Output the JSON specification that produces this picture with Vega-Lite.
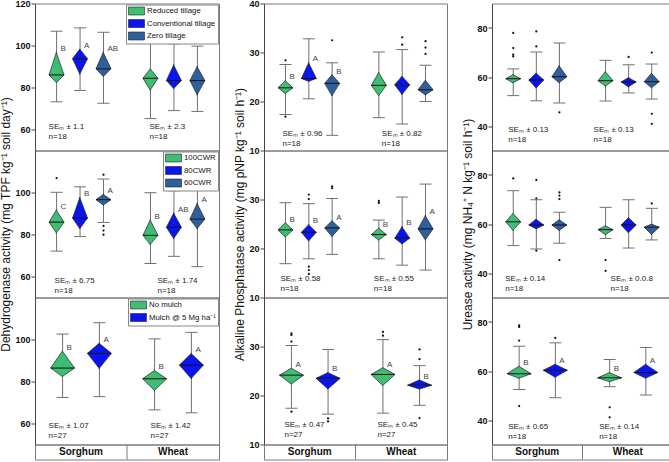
{
"$schema":"https://vega.github.io/schema/vega-lite/v6.json",
"padding":{"left":-2,"top":-1.5,"right":0,"bottom":0},
"background":"white",
"config":{
 "font":"Liberation Sans",
 "view":{"stroke":"#7a7a7a","strokeWidth":1},
 "axis":{"grid":false,"domainColor":"#444","tickColor":"#444","tickSize":4,"labelFontSize":9,"labelFontWeight":"bold","labelColor":"#111","labelPadding":1,"labelOverlap":false,"titleFontSize":12,"titleFontWeight":"normal","titleColor":"#111","titlePadding":2.5},
 "legend":{"orient":"top-right","offset":1,"padding":2,"strokeColor":"#888","fillColor":"white","labelFontSize":7.8,"labelColor":"#111","labelOffset":10,"rowPadding":1.5,"symbolOpacity":1}
},
"datasets":{
 "boxes":[
  {"e":"DHA","f":"T","trt":"Reduced tillage","grp":"S-RT","min":73.2,"q1":82.2,"med":86.0,"q3":97.0,"max":106.8,"letter":"B"},
  {"e":"DHA","f":"T","trt":"Conventional tillage","grp":"S-CT","min":78.6,"q1":86.2,"med":93.7,"q3":98.4,"max":108.4,"letter":"A"},
  {"e":"DHA","f":"T","trt":"Zero tillage","grp":"S-ZT","min":72.5,"q1":85.1,"med":88.9,"q3":97.0,"max":106.3,"letter":"AB"},
  {"e":"DHA","f":"T","trt":"Reduced tillage","grp":"W-RT","min":65.2,"q1":78.6,"med":84.4,"q3":89.0,"max":104.0,"letter":""},
  {"e":"DHA","f":"T","trt":"Conventional tillage","grp":"W-CT","min":69.0,"q1":79.4,"med":83.3,"q3":91.0,"max":100.8,"letter":""},
  {"e":"DHA","f":"T","trt":"Zero tillage","grp":"W-ZT","min":68.6,"q1":76.3,"med":83.3,"q3":90.1,"max":99.7,"letter":""},
  {"e":"DHA","f":"W","trt":"100CWR","grp":"S-100","min":72.1,"q1":80.6,"med":85.9,"q3":91.8,"max":100.1,"letter":"C"},
  {"e":"DHA","f":"W","trt":"80CWR","grp":"S-80","min":79.0,"q1":82.6,"med":87.8,"q3":97.8,"max":102.7,"letter":"B"},
  {"e":"DHA","f":"W","trt":"60CWR","grp":"S-60","min":85.7,"q1":93.9,"med":96.6,"q3":99.2,"max":106.4,"letter":"A"},
  {"e":"DHA","f":"W","trt":"100CWR","grp":"W-100","min":66.2,"q1":75.1,"med":79.6,"q3":87.1,"max":99.9,"letter":"B"},
  {"e":"DHA","f":"W","trt":"80CWR","grp":"W-80","min":69.6,"q1":77.9,"med":83.4,"q3":90.4,"max":100.8,"letter":"AB"},
  {"e":"DHA","f":"W","trt":"60CWR","grp":"W-60","min":64.7,"q1":82.7,"med":87.3,"q3":95.0,"max":104.1,"letter":"A"},
  {"e":"DHA","f":"M","trt":"No mulch","grp":"S-NM","min":72.4,"q1":82.3,"med":86.4,"q3":94.6,"max":102.6,"letter":"B"},
  {"e":"DHA","f":"M","trt":"Mulch @ 5 Mg ha⁻¹","grp":"S-M","min":72.8,"q1":86.1,"med":93.4,"q3":98.3,"max":108.0,"letter":"A"},
  {"e":"DHA","f":"M","trt":"No mulch","grp":"W-NM","min":66.5,"q1":75.6,"med":81.3,"q3":85.3,"max":100.3,"letter":"B"},
  {"e":"DHA","f":"M","trt":"Mulch @ 5 Mg ha⁻¹","grp":"W-M","min":65.1,"q1":81.3,"med":87.8,"q3":93.4,"max":103.4,"letter":"A"},
  {"e":"ALP","f":"T","trt":"Reduced tillage","grp":"S-RT","min":17.35,"q1":21.6,"med":22.8,"q3":24.3,"max":27.55,"letter":"B"},
  {"e":"ALP","f":"T","trt":"Conventional tillage","grp":"S-CT","min":20.55,"q1":24.1,"med":24.7,"q3":28.0,"max":32.8,"letter":"A"},
  {"e":"ALP","f":"T","trt":"Zero tillage","grp":"S-ZT","min":13.1,"q1":21.1,"med":23.7,"q3":25.5,"max":27.9,"letter":"B"},
  {"e":"ALP","f":"T","trt":"Reduced tillage","grp":"W-RT","min":16.7,"q1":21.1,"med":23.3,"q3":26.0,"max":30.1,"letter":""},
  {"e":"ALP","f":"T","trt":"Conventional tillage","grp":"W-CT","min":15.4,"q1":21.4,"med":23.4,"q3":25.2,"max":30.6,"letter":""},
  {"e":"ALP","f":"T","trt":"Zero tillage","grp":"W-ZT","min":20.0,"q1":21.3,"med":22.4,"q3":24.4,"max":27.4,"letter":""},
  {"e":"ALP","f":"W","trt":"100CWR","grp":"S-100","min":16.9,"q1":22.3,"med":23.8,"q3":25.3,"max":29.35,"letter":"B"},
  {"e":"ALP","f":"W","trt":"80CWR","grp":"S-80","min":17.9,"q1":21.5,"med":23.3,"q3":24.9,"max":29.15,"letter":"B"},
  {"e":"ALP","f":"W","trt":"60CWR","grp":"S-60","min":18.8,"q1":22.4,"med":24.2,"q3":25.7,"max":30.2,"letter":"A"},
  {"e":"ALP","f":"W","trt":"100CWR","grp":"W-100","min":17.9,"q1":21.7,"med":22.85,"q3":24.2,"max":25.8,"letter":"B"},
  {"e":"ALP","f":"W","trt":"80CWR","grp":"W-80","min":16.6,"q1":20.9,"med":22.1,"q3":24.5,"max":30.5,"letter":"B"},
  {"e":"ALP","f":"W","trt":"60CWR","grp":"W-60","min":15.6,"q1":21.7,"med":24.0,"q3":26.8,"max":33.15,"letter":"A"},
  {"e":"ALP","f":"M","trt":"No mulch","grp":"S-NM","min":17.4,"q1":22.3,"med":24.15,"q3":25.6,"max":30.2,"letter":"A"},
  {"e":"ALP","f":"M","trt":"Mulch @ 5 Mg ha⁻¹","grp":"S-M","min":16.2,"q1":21.3,"med":23.5,"q3":24.7,"max":29.4,"letter":"B"},
  {"e":"ALP","f":"M","trt":"No mulch","grp":"W-NM","min":16.4,"q1":22.0,"med":24.3,"q3":25.7,"max":31.4,"letter":"A"},
  {"e":"ALP","f":"M","trt":"Mulch @ 5 Mg ha⁻¹","grp":"W-M","min":18.0,"q1":21.3,"med":22.1,"q3":23.2,"max":26.1,"letter":"B"},
  {"e":"URE","f":"T","trt":"Reduced tillage","grp":"S-RT","min":52.4,"q1":57.6,"med":59.3,"q3":61.0,"max":63.3,"letter":""},
  {"e":"URE","f":"T","trt":"Conventional tillage","grp":"S-CT","min":50.3,"q1":55.4,"med":58.8,"q3":61.6,"max":70.2,"letter":""},
  {"e":"URE","f":"T","trt":"Zero tillage","grp":"S-ZT","min":49.4,"q1":57.6,"med":60.1,"q3":64.7,"max":73.9,"letter":""},
  {"e":"URE","f":"T","trt":"Reduced tillage","grp":"W-RT","min":50.2,"q1":56.2,"med":58.5,"q3":62.3,"max":66.8,"letter":""},
  {"e":"URE","f":"T","trt":"Conventional tillage","grp":"W-CT","min":53.5,"q1":55.9,"med":58.0,"q3":59.8,"max":65.0,"letter":""},
  {"e":"URE","f":"T","trt":"Zero tillage","grp":"W-ZT","min":51.0,"q1":55.5,"med":58.1,"q3":61.6,"max":65.3,"letter":""},
  {"e":"URE","f":"W","trt":"100CWR","grp":"S-100","min":51.2,"q1":57.3,"med":60.9,"q3":64.4,"max":73.6,"letter":""},
  {"e":"URE","f":"W","trt":"80CWR","grp":"S-80","min":49.8,"q1":58.0,"med":59.6,"q3":62.0,"max":69.9,"letter":""},
  {"e":"URE","f":"W","trt":"60CWR","grp":"S-60","min":52.1,"q1":57.3,"med":59.6,"q3":61.8,"max":64.8,"letter":""},
  {"e":"URE","f":"W","trt":"100CWR","grp":"W-100","min":54.1,"q1":55.6,"med":57.7,"q3":59.3,"max":66.8,"letter":""},
  {"e":"URE","f":"W","trt":"80CWR","grp":"W-80","min":50.2,"q1":56.3,"med":59.6,"q3":62.7,"max":69.9,"letter":""},
  {"e":"URE","f":"W","trt":"60CWR","grp":"W-60","min":53.5,"q1":55.6,"med":58.7,"q3":60.0,"max":66.4,"letter":""},
  {"e":"URE","f":"M","trt":"No mulch","grp":"S-NM","min":52.4,"q1":57.0,"med":58.9,"q3":62.0,"max":70.1,"letter":"B"},
  {"e":"URE","f":"M","trt":"Mulch @ 5 Mg ha⁻¹","grp":"S-M","min":49.1,"q1":57.4,"med":60.3,"q3":62.8,"max":71.5,"letter":"A"},
  {"e":"URE","f":"M","trt":"No mulch","grp":"W-NM","min":53.6,"q1":55.6,"med":57.2,"q3":59.4,"max":64.7,"letter":"B"},
  {"e":"URE","f":"M","trt":"Mulch @ 5 Mg ha⁻¹","grp":"W-M","min":50.2,"q1":57.0,"med":59.4,"q3":62.8,"max":69.6,"letter":"A"}
 ],
 "outliers":[
  {"e":"DHA","f":"W","grp":"S-100","v":106.9},
  {"e":"DHA","f":"W","grp":"S-60","v":108.5},{"e":"DHA","f":"W","grp":"S-60","v":84.1},{"e":"DHA","f":"W","grp":"S-60","v":81.9},{"e":"DHA","f":"W","grp":"S-60","v":79.9},
  {"e":"ALP","f":"T","grp":"S-RT","v":28.4},{"e":"ALP","f":"T","grp":"S-RT","v":16.9},
  {"e":"ALP","f":"T","grp":"S-ZT","v":32.5},
  {"e":"ALP","f":"T","grp":"W-CT","v":33.1},{"e":"ALP","f":"T","grp":"W-CT","v":31.6},
  {"e":"ALP","f":"T","grp":"W-ZT","v":32.3},{"e":"ALP","f":"T","grp":"W-ZT","v":31.0},{"e":"ALP","f":"T","grp":"W-ZT","v":29.7},
  {"e":"ALP","f":"W","grp":"S-80","v":31.0},{"e":"ALP","f":"W","grp":"S-80","v":30.1},{"e":"ALP","f":"W","grp":"S-80","v":16.3},{"e":"ALP","f":"W","grp":"S-80","v":15.6},{"e":"ALP","f":"W","grp":"S-80","v":14.8},
  {"e":"ALP","f":"W","grp":"S-60","v":32.7},{"e":"ALP","f":"W","grp":"S-60","v":32.3},
  {"e":"ALP","f":"W","grp":"W-100","v":29.7},{"e":"ALP","f":"W","grp":"W-100","v":29.3},
  {"e":"ALP","f":"M","grp":"S-NM","v":32.7},{"e":"ALP","f":"M","grp":"S-NM","v":32.35},{"e":"ALP","f":"M","grp":"S-NM","v":31.0},{"e":"ALP","f":"M","grp":"S-NM","v":16.7},
  {"e":"ALP","f":"M","grp":"S-M","v":15.35},{"e":"ALP","f":"M","grp":"S-M","v":14.7},
  {"e":"ALP","f":"M","grp":"W-NM","v":33.0},{"e":"ALP","f":"M","grp":"W-NM","v":32.2},
  {"e":"ALP","f":"M","grp":"W-M","v":29.4},{"e":"ALP","f":"M","grp":"W-M","v":27.4},{"e":"ALP","f":"M","grp":"W-M","v":15.4},
  {"e":"URE","f":"T","grp":"S-RT","v":78.0},{"e":"URE","f":"T","grp":"S-RT","v":71.8},{"e":"URE","f":"T","grp":"S-RT","v":69.1},{"e":"URE","f":"T","grp":"S-RT","v":68.4},
  {"e":"URE","f":"T","grp":"S-CT","v":78.6},{"e":"URE","f":"T","grp":"S-CT","v":72.5},
  {"e":"URE","f":"T","grp":"S-ZT","v":45.6},
  {"e":"URE","f":"T","grp":"W-CT","v":68.2},
  {"e":"URE","f":"T","grp":"W-ZT","v":70.0},{"e":"URE","f":"T","grp":"W-ZT","v":45.0},{"e":"URE","f":"T","grp":"W-ZT","v":40.9},
  {"e":"URE","f":"W","grp":"S-100","v":78.6},
  {"e":"URE","f":"W","grp":"S-80","v":78.0},{"e":"URE","f":"W","grp":"S-80","v":70.5},{"e":"URE","f":"W","grp":"S-80","v":49.1},
  {"e":"URE","f":"W","grp":"S-60","v":72.9},{"e":"URE","f":"W","grp":"S-60","v":71.6},{"e":"URE","f":"W","grp":"S-60","v":70.2},{"e":"URE","f":"W","grp":"S-60","v":45.3},
  {"e":"URE","f":"W","grp":"W-100","v":45.3},{"e":"URE","f":"W","grp":"W-100","v":40.9},
  {"e":"URE","f":"W","grp":"W-60","v":68.4},
  {"e":"URE","f":"M","grp":"S-NM","v":78.6},{"e":"URE","f":"M","grp":"S-NM","v":78.0},{"e":"URE","f":"M","grp":"S-NM","v":72.4},{"e":"URE","f":"M","grp":"S-NM","v":45.7},
  {"e":"URE","f":"M","grp":"S-M","v":73.5},
  {"e":"URE","f":"M","grp":"W-NM","v":45.2},{"e":"URE","f":"M","grp":"W-NM","v":41.1}
 ],
 "se":[
  {"e":"DHA","f":"T","crop":"S","grp":"S-RT","lines":["SEₘ ± 1.1","n=18"]},
  {"e":"DHA","f":"T","crop":"W","grp":"W-RT","lines":["SEₘ ± 2.3","n=18"]},
  {"e":"DHA","f":"W","crop":"S","grp":"S-100","lines":["SEₘ ± 6.75","n=18"]},
  {"e":"DHA","f":"W","crop":"W","grp":"W-100","lines":["SEₘ ± 1.74","n=18"]},
  {"e":"DHA","f":"M","crop":"S","grp":"S-NM","lines":["SEₘ ± 1.07","n=27"]},
  {"e":"DHA","f":"M","crop":"W","grp":"W-NM","lines":["SEₘ ± 1.42","n=27"]},
  {"e":"ALP","f":"T","crop":"S","grp":"S-RT","lines":["SEₘ ± 0.96","n=18"]},
  {"e":"ALP","f":"T","crop":"W","grp":"W-RT","lines":["SEₘ ± 0.82","n=18"]},
  {"e":"ALP","f":"W","crop":"S","grp":"S-100","lines":["SEₘ ± 0.58","n=18"]},
  {"e":"ALP","f":"W","crop":"W","grp":"W-100","lines":["SEₘ ± 0.55","n=18"]},
  {"e":"ALP","f":"M","crop":"S","grp":"S-NM","lines":["SEₘ ± 0.47","n=27"]},
  {"e":"ALP","f":"M","crop":"W","grp":"W-NM","lines":["SEₘ ± 0.45","n=27"]},
  {"e":"URE","f":"T","crop":"S","grp":"S-RT","lines":["SEₘ ± 0.13","n=18"]},
  {"e":"URE","f":"T","crop":"W","grp":"W-RT","lines":["SEₘ ± 0.13","n=18"]},
  {"e":"URE","f":"W","crop":"S","grp":"S-100","lines":["SEₘ ± 0.14","n=18"]},
  {"e":"URE","f":"W","crop":"W","grp":"W-100","lines":["SEₘ ± 0.0.8","n=18"]},
  {"e":"URE","f":"M","crop":"S","grp":"S-NM","lines":["SEₘ ± 0.65","n=18"]},
  {"e":"URE","f":"M","crop":"W","grp":"W-NM","lines":["SEₘ ± 0.14","n=18"]}
 ],
 "crops":[{"crop":"Sorghum"},{"crop":"Wheat"}]
},
"spacing":12,
"resolve":{"scale":{"fill":"independent"},"legend":{"fill":"independent"}},
"hconcat":[
 {"vconcat":[
  {"width":184,"height":147,"layer":[
   {"data":{"name":"boxes"},"transform":[{"filter":"datum.e=='DHA' && datum.f=='T'"}],"mark":{"type":"rule","color":"#707070","strokeWidth":1},
    "encoding":{"x":{"field":"grp","type":"nominal","scale":{"type":"band","domain":["S-RT","S-CT","S-ZT","_","W-RT","W-CT","W-ZT"],"paddingInner":0,"paddingOuter":0.42},"axis":null},
     "y":{"field":"min","type":"quantitative","scale":{"domain":[50,120],"nice":false,"zero":false},"axis":{"values":[60,70,80,90,100,110,120],"labelExpr":"datum.value % 20 == 0 ? datum.label : ''","title":null}},
     "y2":{"field":"max"}}},
   {"data":{"name":"boxes"},"transform":[{"filter":"datum.e=='DHA' && datum.f=='T'"},{"fold":["min","max"],"as":["ck","cv"]}],"mark":{"type":"tick","color":"#707070","size":12,"thickness":1,"opacity":1},
    "encoding":{"x":{"field":"grp","type":"nominal"},"y":{"field":"cv","type":"quantitative"}}},
   {"layer":[
    {"data":{"name":"boxes"},"transform":[{"filter":"datum.e=='DHA' && datum.f=='T'"},{"fold":["med","q3"],"as":["k","v"]}],"mark":{"type":"area","opacity":1,"line":{"stroke":"#222","strokeWidth":0.7}},
     "encoding":{"x":{"field":"grp","type":"nominal"},"xOffset":{"field":"k","type":"nominal","scale":{"type":"point","domain":["med","q3"],"range":[4.2,11.7],"padding":0}},"y":{"field":"v","type":"quantitative"},"y2":{"field":"med"},"detail":{"field":"grp"},
      "fill":{"field":"trt","type":"nominal","scale":{"domain":["Reduced tillage","Conventional tillage","Zero tillage"],"range":["#3DBE73","#0A14F0","#2E5F9F"]},"legend":{"title":null,"symbolType":"M-1,-1H3V1H-1Z","symbolSize":64,"symbolStrokeColor":"#222","symbolStrokeWidth":0.6}}}},
    {"data":{"name":"boxes"},"transform":[{"filter":"datum.e=='DHA' && datum.f=='T'"},{"fold":["med","q3"],"as":["k","v"]}],"mark":{"type":"area","opacity":1,"line":{"stroke":"#222","strokeWidth":0.7}},
     "encoding":{"x":{"field":"grp","type":"nominal"},"xOffset":{"field":"k","type":"nominal","scale":{"type":"point","domain":["q3","med"],"range":[11.2,19.2],"padding":0}},"y":{"field":"v","type":"quantitative"},"y2":{"field":"med"},"detail":{"field":"grp"},
      "fill":{"field":"trt","type":"nominal","legend":{"title":null,"symbolType":"M-1,-1H3V1H-1Z","symbolSize":64,"symbolStrokeColor":"#222","symbolStrokeWidth":0.6}}}},
    {"data":{"name":"boxes"},"transform":[{"filter":"datum.e=='DHA' && datum.f=='T'"},{"fold":["med","q1"],"as":["k","v"]}],"mark":{"type":"area","opacity":1,"line":{"stroke":"#222","strokeWidth":0.7}},
     "encoding":{"x":{"field":"grp","type":"nominal"},"xOffset":{"field":"k","type":"nominal","scale":{"type":"point","domain":["med","q1"],"range":[4.2,11.7],"padding":0}},"y":{"field":"v","type":"quantitative"},"y2":{"field":"med"},"detail":{"field":"grp"},
      "fill":{"field":"trt","type":"nominal","legend":{"title":null,"symbolType":"M-1,-1H3V1H-1Z","symbolSize":64,"symbolStrokeColor":"#222","symbolStrokeWidth":0.6}}}},
    {"data":{"name":"boxes"},"transform":[{"filter":"datum.e=='DHA' && datum.f=='T'"},{"fold":["med","q1"],"as":["k","v"]}],"mark":{"type":"area","opacity":1,"line":{"stroke":"#222","strokeWidth":0.7}},
     "encoding":{"x":{"field":"grp","type":"nominal"},"xOffset":{"field":"k","type":"nominal","scale":{"type":"point","domain":["q1","med"],"range":[11.2,19.2],"padding":0}},"y":{"field":"v","type":"quantitative"},"y2":{"field":"med"},"detail":{"field":"grp"},
      "fill":{"field":"trt","type":"nominal","legend":{"title":null,"symbolType":"M-1,-1H3V1H-1Z","symbolSize":64,"symbolStrokeColor":"#222","symbolStrokeWidth":0.6}}}}
   ],"resolve":{"scale":{"xOffset":"independent"}}},
   {"data":{"name":"boxes"},"transform":[{"filter":"datum.e=='DHA' && datum.f=='T'"}],"mark":{"type":"tick","color":"#111","size":15,"thickness":1,"opacity":1},
    "encoding":{"x":{"field":"grp","type":"nominal"},"y":{"field":"med","type":"quantitative"}}},
   {"data":{"name":"boxes"},"transform":[{"filter":"datum.e=='DHA' && datum.f=='T'"}],"mark":{"type":"text","align":"left","baseline":"middle","dx":4,"dy":-3,"fontSize":8,"color":"#444"},
    "encoding":{"x":{"field":"grp","type":"nominal"},"y":{"field":"q3","type":"quantitative"},"text":{"field":"letter"}}},
   {"data":{"name":"se"},"transform":[{"filter":"datum.e=='DHA' && datum.f=='T' && datum.crop=='S'"}],"mark":{"type":"text","align":"left","baseline":"middle","dx":-8,"fontSize":8,"lineHeight":10,"color":"#222"},
    "encoding":{"x":{"field":"grp","type":"nominal"},"y":{"datum":61.4},"text":{"field":"lines"}}},
   {"data":{"name":"se"},"transform":[{"filter":"datum.e=='DHA' && datum.f=='T' && datum.crop=='W'"}],"mark":{"type":"text","align":"left","baseline":"middle","dx":-1,"fontSize":8,"lineHeight":10,"color":"#222"},
    "encoding":{"x":{"field":"grp","type":"nominal"},"y":{"datum":61.4},"text":{"field":"lines"}}}
  ]},
  {"width":184,"height":147,"layer":[
   {"data":{"name":"boxes"},"transform":[{"filter":"datum.e=='DHA' && datum.f=='W'"}],"mark":{"type":"rule","color":"#707070","strokeWidth":1},
    "encoding":{"x":{"field":"grp","type":"nominal","scale":{"type":"band","domain":["S-100","S-80","S-60","_","W-100","W-80","W-60"],"paddingInner":0,"paddingOuter":0.42},"axis":null},
     "y":{"field":"min","type":"quantitative","scale":{"domain":[50,120],"nice":false,"zero":false},"axis":{"values":[60,70,80,90,100,110],"labelExpr":"datum.value % 20 == 0 ? datum.label : ''","title":"Dehydrogenase activity (mg TPF kg⁻¹ soil day⁻¹)"}},
     "y2":{"field":"max"}}},
   {"data":{"name":"boxes"},"transform":[{"filter":"datum.e=='DHA' && datum.f=='W'"},{"fold":["min","max"],"as":["ck","cv"]}],"mark":{"type":"tick","color":"#707070","size":12,"thickness":1,"opacity":1},
    "encoding":{"x":{"field":"grp","type":"nominal"},"y":{"field":"cv","type":"quantitative"}}},
   {"layer":[
    {"data":{"name":"boxes"},"transform":[{"filter":"datum.e=='DHA' && datum.f=='W'"},{"fold":["med","q3"],"as":["k","v"]}],"mark":{"type":"area","opacity":1,"line":{"stroke":"#222","strokeWidth":0.7}},
     "encoding":{"x":{"field":"grp","type":"nominal"},"xOffset":{"field":"k","type":"nominal","scale":{"type":"point","domain":["med","q3"],"range":[4.2,11.7],"padding":0}},"y":{"field":"v","type":"quantitative"},"y2":{"field":"med"},"detail":{"field":"grp"},
      "fill":{"field":"trt","type":"nominal","scale":{"domain":["100CWR","80CWR","60CWR"],"range":["#3DBE73","#0A14F0","#2E5F9F"]},"legend":{"title":null,"symbolType":"M-1,-1H3V1H-1Z","symbolSize":64,"symbolStrokeColor":"#222","symbolStrokeWidth":0.6}}}},
    {"data":{"name":"boxes"},"transform":[{"filter":"datum.e=='DHA' && datum.f=='W'"},{"fold":["med","q3"],"as":["k","v"]}],"mark":{"type":"area","opacity":1,"line":{"stroke":"#222","strokeWidth":0.7}},
     "encoding":{"x":{"field":"grp","type":"nominal"},"xOffset":{"field":"k","type":"nominal","scale":{"type":"point","domain":["q3","med"],"range":[11.2,19.2],"padding":0}},"y":{"field":"v","type":"quantitative"},"y2":{"field":"med"},"detail":{"field":"grp"},
      "fill":{"field":"trt","type":"nominal","legend":{"title":null,"symbolType":"M-1,-1H3V1H-1Z","symbolSize":64,"symbolStrokeColor":"#222","symbolStrokeWidth":0.6}}}},
    {"data":{"name":"boxes"},"transform":[{"filter":"datum.e=='DHA' && datum.f=='W'"},{"fold":["med","q1"],"as":["k","v"]}],"mark":{"type":"area","opacity":1,"line":{"stroke":"#222","strokeWidth":0.7}},
     "encoding":{"x":{"field":"grp","type":"nominal"},"xOffset":{"field":"k","type":"nominal","scale":{"type":"point","domain":["med","q1"],"range":[4.2,11.7],"padding":0}},"y":{"field":"v","type":"quantitative"},"y2":{"field":"med"},"detail":{"field":"grp"},
      "fill":{"field":"trt","type":"nominal","legend":{"title":null,"symbolType":"M-1,-1H3V1H-1Z","symbolSize":64,"symbolStrokeColor":"#222","symbolStrokeWidth":0.6}}}},
    {"data":{"name":"boxes"},"transform":[{"filter":"datum.e=='DHA' && datum.f=='W'"},{"fold":["med","q1"],"as":["k","v"]}],"mark":{"type":"area","opacity":1,"line":{"stroke":"#222","strokeWidth":0.7}},
     "encoding":{"x":{"field":"grp","type":"nominal"},"xOffset":{"field":"k","type":"nominal","scale":{"type":"point","domain":["q1","med"],"range":[11.2,19.2],"padding":0}},"y":{"field":"v","type":"quantitative"},"y2":{"field":"med"},"detail":{"field":"grp"},
      "fill":{"field":"trt","type":"nominal","legend":{"title":null,"symbolType":"M-1,-1H3V1H-1Z","symbolSize":64,"symbolStrokeColor":"#222","symbolStrokeWidth":0.6}}}}
   ],"resolve":{"scale":{"xOffset":"independent"}}},
   {"data":{"name":"boxes"},"transform":[{"filter":"datum.e=='DHA' && datum.f=='W'"}],"mark":{"type":"tick","color":"#111","size":15,"thickness":1,"opacity":1},
    "encoding":{"x":{"field":"grp","type":"nominal"},"y":{"field":"med","type":"quantitative"}}},
   {"data":{"name":"outliers"},"transform":[{"filter":"datum.e=='DHA' && datum.f=='W'"}],"mark":{"type":"point","filled":true,"color":"#111","size":5,"opacity":1},
    "encoding":{"x":{"field":"grp","type":"nominal"},"y":{"field":"v","type":"quantitative"}}},
   {"data":{"name":"boxes"},"transform":[{"filter":"datum.e=='DHA' && datum.f=='W'"}],"mark":{"type":"text","align":"left","baseline":"middle","dx":4,"dy":-3,"fontSize":8,"color":"#444"},
    "encoding":{"x":{"field":"grp","type":"nominal"},"y":{"field":"q3","type":"quantitative"},"text":{"field":"letter"}}},
   {"data":{"name":"se"},"transform":[{"filter":"datum.e=='DHA' && datum.f=='W' && datum.crop=='S'"}],"mark":{"type":"text","align":"left","baseline":"middle","dx":-2,"fontSize":8,"lineHeight":10,"color":"#222"},
    "encoding":{"x":{"field":"grp","type":"nominal"},"y":{"datum":58.0},"text":{"field":"lines"}}},
   {"data":{"name":"se"},"transform":[{"filter":"datum.e=='DHA' && datum.f=='W' && datum.crop=='W'"}],"mark":{"type":"text","align":"left","baseline":"middle","dx":7,"fontSize":8,"lineHeight":10,"color":"#222"},
    "encoding":{"x":{"field":"grp","type":"nominal"},"y":{"datum":58.0},"text":{"field":"lines"}}}
  ]},
  {"width":184,"height":147,"layer":[
   {"data":{"name":"boxes"},"transform":[{"filter":"datum.e=='DHA' && datum.f=='M'"}],"mark":{"type":"rule","color":"#707070","strokeWidth":1},
    "encoding":{"x":{"field":"grp","type":"nominal","scale":{"type":"band","domain":["S-NM","_a","S-M","_b","_c","W-NM","_d","W-M"],"paddingInner":0,"paddingOuter":1},"axis":null},
     "y":{"field":"min","type":"quantitative","scale":{"domain":[50,120],"nice":false,"zero":false},"axis":{"values":[60,70,80,90,100,110],"labelExpr":"datum.value % 20 == 0 ? datum.label : ''","title":null}},
     "y2":{"field":"max"}}},
   {"data":{"name":"boxes"},"transform":[{"filter":"datum.e=='DHA' && datum.f=='M'"},{"fold":["min","max"],"as":["ck","cv"]}],"mark":{"type":"tick","color":"#707070","size":12,"thickness":1,"opacity":1},
    "encoding":{"x":{"field":"grp","type":"nominal"},"y":{"field":"cv","type":"quantitative"}}},
   {"layer":[
    {"data":{"name":"boxes"},"transform":[{"filter":"datum.e=='DHA' && datum.f=='M'"},{"fold":["med","q3"],"as":["k","v"]}],"mark":{"type":"area","opacity":1,"line":{"stroke":"#222","strokeWidth":0.7}},
     "encoding":{"x":{"field":"grp","type":"nominal"},"xOffset":{"field":"k","type":"nominal","scale":{"type":"point","domain":["med","q3"],"range":[-2.8,9.2],"padding":0}},"y":{"field":"v","type":"quantitative"},"y2":{"field":"med"},"detail":{"field":"grp"},
      "fill":{"field":"trt","type":"nominal","scale":{"domain":["No mulch","Mulch @ 5 Mg ha⁻¹"],"range":["#3DBE73","#0A14F0"]},"legend":{"title":null,"symbolType":"M-1,-1H3V1H-1Z","symbolSize":64,"symbolStrokeColor":"#222","symbolStrokeWidth":0.6}}}},
    {"data":{"name":"boxes"},"transform":[{"filter":"datum.e=='DHA' && datum.f=='M'"},{"fold":["med","q3"],"as":["k","v"]}],"mark":{"type":"area","opacity":1,"line":{"stroke":"#222","strokeWidth":0.7}},
     "encoding":{"x":{"field":"grp","type":"nominal"},"xOffset":{"field":"k","type":"nominal","scale":{"type":"point","domain":["q3","med"],"range":[8.7,21.2],"padding":0}},"y":{"field":"v","type":"quantitative"},"y2":{"field":"med"},"detail":{"field":"grp"},
      "fill":{"field":"trt","type":"nominal","legend":{"title":null,"symbolType":"M-1,-1H3V1H-1Z","symbolSize":64,"symbolStrokeColor":"#222","symbolStrokeWidth":0.6}}}},
    {"data":{"name":"boxes"},"transform":[{"filter":"datum.e=='DHA' && datum.f=='M'"},{"fold":["med","q1"],"as":["k","v"]}],"mark":{"type":"area","opacity":1,"line":{"stroke":"#222","strokeWidth":0.7}},
     "encoding":{"x":{"field":"grp","type":"nominal"},"xOffset":{"field":"k","type":"nominal","scale":{"type":"point","domain":["med","q1"],"range":[-2.8,9.2],"padding":0}},"y":{"field":"v","type":"quantitative"},"y2":{"field":"med"},"detail":{"field":"grp"},
      "fill":{"field":"trt","type":"nominal","legend":{"title":null,"symbolType":"M-1,-1H3V1H-1Z","symbolSize":64,"symbolStrokeColor":"#222","symbolStrokeWidth":0.6}}}},
    {"data":{"name":"boxes"},"transform":[{"filter":"datum.e=='DHA' && datum.f=='M'"},{"fold":["med","q1"],"as":["k","v"]}],"mark":{"type":"area","opacity":1,"line":{"stroke":"#222","strokeWidth":0.7}},
     "encoding":{"x":{"field":"grp","type":"nominal"},"xOffset":{"field":"k","type":"nominal","scale":{"type":"point","domain":["q1","med"],"range":[8.7,21.2],"padding":0}},"y":{"field":"v","type":"quantitative"},"y2":{"field":"med"},"detail":{"field":"grp"},
      "fill":{"field":"trt","type":"nominal","legend":{"title":null,"symbolType":"M-1,-1H3V1H-1Z","symbolSize":64,"symbolStrokeColor":"#222","symbolStrokeWidth":0.6}}}}
   ],"resolve":{"scale":{"xOffset":"independent"}}},
   {"data":{"name":"boxes"},"transform":[{"filter":"datum.e=='DHA' && datum.f=='M'"}],"mark":{"type":"tick","color":"#111","size":24,"thickness":1,"opacity":1},
    "encoding":{"x":{"field":"grp","type":"nominal"},"y":{"field":"med","type":"quantitative"}}},
   {"data":{"name":"boxes"},"transform":[{"filter":"datum.e=='DHA' && datum.f=='M'"}],"mark":{"type":"text","align":"left","baseline":"middle","dx":4,"dy":-3,"fontSize":8,"color":"#444"},
    "encoding":{"x":{"field":"grp","type":"nominal"},"y":{"field":"q3","type":"quantitative"},"text":{"field":"letter"}}},
   {"data":{"name":"se"},"transform":[{"filter":"datum.e=='DHA' && datum.f=='M' && datum.crop=='S'"}],"mark":{"type":"text","align":"left","baseline":"middle","dx":-14,"fontSize":8,"lineHeight":10,"color":"#222"},
    "encoding":{"x":{"field":"grp","type":"nominal"},"y":{"datum":59.0},"text":{"field":"lines"}}},
   {"data":{"name":"se"},"transform":[{"filter":"datum.e=='DHA' && datum.f=='M' && datum.crop=='W'"}],"mark":{"type":"text","align":"left","baseline":"middle","dx":-4,"fontSize":8,"lineHeight":10,"color":"#222"},
    "encoding":{"x":{"field":"grp","type":"nominal"},"y":{"datum":59.0},"text":{"field":"lines"}}}
  ]},
  {"width":184,"height":15,"data":{"name":"crops"},"layer":[
   {"mark":{"type":"text","fontSize":10,"fontWeight":"bold","color":"#111"},"encoding":{"x":{"field":"crop","type":"nominal","scale":{"type":"band","paddingInner":0,"paddingOuter":0},"axis":null},"text":{"field":"crop"}}},
   {"transform":[{"filter":"datum.crop=='Wheat'"}],"mark":{"type":"rule","color":"#7a7a7a"},"encoding":{"x":{"field":"crop","type":"nominal","bandPosition":0}}}
  ]}
 ],"spacing":0,"bounds":"flush","resolve":{"scale":{"fill":"independent"},"legend":{"fill":"independent"}}},
 {"vconcat":[
  {"width":183,"height":147,"layer":[
   {"data":{"name":"boxes"},"transform":[{"filter":"datum.e=='ALP' && datum.f=='T'"}],"mark":{"type":"rule","color":"#707070","strokeWidth":1},
    "encoding":{"x":{"field":"grp","type":"nominal","scale":{"type":"band","domain":["S-RT","S-CT","S-ZT","_","W-RT","W-CT","W-ZT"],"paddingInner":0,"paddingOuter":0.42},"axis":null},
     "y":{"field":"min","type":"quantitative","scale":{"domain":[10,40],"nice":false,"zero":false},"axis":{"values":[10,15,20,25,30,35,40],"labelExpr":"datum.value % 10 == 0 ? datum.label : ''","title":null}},
     "y2":{"field":"max"}}},
   {"data":{"name":"boxes"},"transform":[{"filter":"datum.e=='ALP' && datum.f=='T'"},{"fold":["min","max"],"as":["ck","cv"]}],"mark":{"type":"tick","color":"#707070","size":12,"thickness":1,"opacity":1},
    "encoding":{"x":{"field":"grp","type":"nominal"},"y":{"field":"cv","type":"quantitative"}}},
   {"layer":[
    {"data":{"name":"boxes"},"transform":[{"filter":"datum.e=='ALP' && datum.f=='T'"},{"fold":["med","q3"],"as":["k","v"]}],"mark":{"type":"area","opacity":1,"line":{"stroke":"#222","strokeWidth":0.7}},
     "encoding":{"x":{"field":"grp","type":"nominal"},"xOffset":{"field":"k","type":"nominal","scale":{"type":"point","domain":["med","q3"],"range":[4.2,11.7],"padding":0}},"y":{"field":"v","type":"quantitative"},"y2":{"field":"med"},"detail":{"field":"grp"},
      "fill":{"field":"trt","type":"nominal","scale":{"domain":["Reduced tillage","Conventional tillage","Zero tillage"],"range":["#3DBE73","#0A14F0","#2E5F9F"]},"legend":null}}},
    {"data":{"name":"boxes"},"transform":[{"filter":"datum.e=='ALP' && datum.f=='T'"},{"fold":["med","q3"],"as":["k","v"]}],"mark":{"type":"area","opacity":1,"line":{"stroke":"#222","strokeWidth":0.7}},
     "encoding":{"x":{"field":"grp","type":"nominal"},"xOffset":{"field":"k","type":"nominal","scale":{"type":"point","domain":["q3","med"],"range":[11.2,19.2],"padding":0}},"y":{"field":"v","type":"quantitative"},"y2":{"field":"med"},"detail":{"field":"grp"},
      "fill":{"field":"trt","type":"nominal","legend":null}}},
    {"data":{"name":"boxes"},"transform":[{"filter":"datum.e=='ALP' && datum.f=='T'"},{"fold":["med","q1"],"as":["k","v"]}],"mark":{"type":"area","opacity":1,"line":{"stroke":"#222","strokeWidth":0.7}},
     "encoding":{"x":{"field":"grp","type":"nominal"},"xOffset":{"field":"k","type":"nominal","scale":{"type":"point","domain":["med","q1"],"range":[4.2,11.7],"padding":0}},"y":{"field":"v","type":"quantitative"},"y2":{"field":"med"},"detail":{"field":"grp"},
      "fill":{"field":"trt","type":"nominal","legend":null}}},
    {"data":{"name":"boxes"},"transform":[{"filter":"datum.e=='ALP' && datum.f=='T'"},{"fold":["med","q1"],"as":["k","v"]}],"mark":{"type":"area","opacity":1,"line":{"stroke":"#222","strokeWidth":0.7}},
     "encoding":{"x":{"field":"grp","type":"nominal"},"xOffset":{"field":"k","type":"nominal","scale":{"type":"point","domain":["q1","med"],"range":[11.2,19.2],"padding":0}},"y":{"field":"v","type":"quantitative"},"y2":{"field":"med"},"detail":{"field":"grp"},
      "fill":{"field":"trt","type":"nominal","legend":null}}}
   ],"resolve":{"scale":{"xOffset":"independent"}}},
   {"data":{"name":"boxes"},"transform":[{"filter":"datum.e=='ALP' && datum.f=='T'"}],"mark":{"type":"tick","color":"#111","size":15,"thickness":1,"opacity":1},
    "encoding":{"x":{"field":"grp","type":"nominal"},"y":{"field":"med","type":"quantitative"}}},
   {"data":{"name":"outliers"},"transform":[{"filter":"datum.e=='ALP' && datum.f=='T'"}],"mark":{"type":"point","filled":true,"color":"#111","size":5,"opacity":1},
    "encoding":{"x":{"field":"grp","type":"nominal"},"y":{"field":"v","type":"quantitative"}}},
   {"data":{"name":"boxes"},"transform":[{"filter":"datum.e=='ALP' && datum.f=='T'"}],"mark":{"type":"text","align":"left","baseline":"middle","dx":4,"dy":-3,"fontSize":8,"color":"#444"},
    "encoding":{"x":{"field":"grp","type":"nominal"},"y":{"field":"q3","type":"quantitative"},"text":{"field":"letter"}}},
   {"data":{"name":"se"},"transform":[{"filter":"datum.e=='ALP' && datum.f=='T' && datum.crop=='S'"}],"mark":{"type":"text","align":"left","baseline":"middle","dx":-3,"fontSize":8,"lineHeight":10,"color":"#222"},
    "encoding":{"x":{"field":"grp","type":"nominal"},"y":{"datum":13.3},"text":{"field":"lines"}}},
   {"data":{"name":"se"},"transform":[{"filter":"datum.e=='ALP' && datum.f=='T' && datum.crop=='W'"}],"mark":{"type":"text","align":"left","baseline":"middle","dx":3,"fontSize":8,"lineHeight":10,"color":"#222"},
    "encoding":{"x":{"field":"grp","type":"nominal"},"y":{"datum":13.3},"text":{"field":"lines"}}}
  ]},
  {"width":183,"height":147,"layer":[
   {"data":{"name":"boxes"},"transform":[{"filter":"datum.e=='ALP' && datum.f=='W'"}],"mark":{"type":"rule","color":"#707070","strokeWidth":1},
    "encoding":{"x":{"field":"grp","type":"nominal","scale":{"type":"band","domain":["S-100","S-80","S-60","_","W-100","W-80","W-60"],"paddingInner":0,"paddingOuter":0.42},"axis":null},
     "y":{"field":"min","type":"quantitative","scale":{"domain":[10,40],"nice":false,"zero":false},"axis":{"values":[10,15,20,25,30,35],"labelExpr":"datum.value % 10 == 0 ? datum.label : ''","title":"Alkaline Phosphatase activity (mg pNP kg⁻¹ soil h⁻¹)"}},
     "y2":{"field":"max"}}},
   {"data":{"name":"boxes"},"transform":[{"filter":"datum.e=='ALP' && datum.f=='W'"},{"fold":["min","max"],"as":["ck","cv"]}],"mark":{"type":"tick","color":"#707070","size":12,"thickness":1,"opacity":1},
    "encoding":{"x":{"field":"grp","type":"nominal"},"y":{"field":"cv","type":"quantitative"}}},
   {"layer":[
    {"data":{"name":"boxes"},"transform":[{"filter":"datum.e=='ALP' && datum.f=='W'"},{"fold":["med","q3"],"as":["k","v"]}],"mark":{"type":"area","opacity":1,"line":{"stroke":"#222","strokeWidth":0.7}},
     "encoding":{"x":{"field":"grp","type":"nominal"},"xOffset":{"field":"k","type":"nominal","scale":{"type":"point","domain":["med","q3"],"range":[4.2,11.7],"padding":0}},"y":{"field":"v","type":"quantitative"},"y2":{"field":"med"},"detail":{"field":"grp"},
      "fill":{"field":"trt","type":"nominal","scale":{"domain":["100CWR","80CWR","60CWR"],"range":["#3DBE73","#0A14F0","#2E5F9F"]},"legend":null}}},
    {"data":{"name":"boxes"},"transform":[{"filter":"datum.e=='ALP' && datum.f=='W'"},{"fold":["med","q3"],"as":["k","v"]}],"mark":{"type":"area","opacity":1,"line":{"stroke":"#222","strokeWidth":0.7}},
     "encoding":{"x":{"field":"grp","type":"nominal"},"xOffset":{"field":"k","type":"nominal","scale":{"type":"point","domain":["q3","med"],"range":[11.2,19.2],"padding":0}},"y":{"field":"v","type":"quantitative"},"y2":{"field":"med"},"detail":{"field":"grp"},
      "fill":{"field":"trt","type":"nominal","legend":null}}},
    {"data":{"name":"boxes"},"transform":[{"filter":"datum.e=='ALP' && datum.f=='W'"},{"fold":["med","q1"],"as":["k","v"]}],"mark":{"type":"area","opacity":1,"line":{"stroke":"#222","strokeWidth":0.7}},
     "encoding":{"x":{"field":"grp","type":"nominal"},"xOffset":{"field":"k","type":"nominal","scale":{"type":"point","domain":["med","q1"],"range":[4.2,11.7],"padding":0}},"y":{"field":"v","type":"quantitative"},"y2":{"field":"med"},"detail":{"field":"grp"},
      "fill":{"field":"trt","type":"nominal","legend":null}}},
    {"data":{"name":"boxes"},"transform":[{"filter":"datum.e=='ALP' && datum.f=='W'"},{"fold":["med","q1"],"as":["k","v"]}],"mark":{"type":"area","opacity":1,"line":{"stroke":"#222","strokeWidth":0.7}},
     "encoding":{"x":{"field":"grp","type":"nominal"},"xOffset":{"field":"k","type":"nominal","scale":{"type":"point","domain":["q1","med"],"range":[11.2,19.2],"padding":0}},"y":{"field":"v","type":"quantitative"},"y2":{"field":"med"},"detail":{"field":"grp"},
      "fill":{"field":"trt","type":"nominal","legend":null}}}
   ],"resolve":{"scale":{"xOffset":"independent"}}},
   {"data":{"name":"boxes"},"transform":[{"filter":"datum.e=='ALP' && datum.f=='W'"}],"mark":{"type":"tick","color":"#111","size":15,"thickness":1,"opacity":1},
    "encoding":{"x":{"field":"grp","type":"nominal"},"y":{"field":"med","type":"quantitative"}}},
   {"data":{"name":"outliers"},"transform":[{"filter":"datum.e=='ALP' && datum.f=='W'"}],"mark":{"type":"point","filled":true,"color":"#111","size":5,"opacity":1},
    "encoding":{"x":{"field":"grp","type":"nominal"},"y":{"field":"v","type":"quantitative"}}},
   {"data":{"name":"boxes"},"transform":[{"filter":"datum.e=='ALP' && datum.f=='W'"}],"mark":{"type":"text","align":"left","baseline":"middle","dx":4,"dy":-3,"fontSize":8,"color":"#444"},
    "encoding":{"x":{"field":"grp","type":"nominal"},"y":{"field":"q3","type":"quantitative"},"text":{"field":"letter"}}},
   {"data":{"name":"se"},"transform":[{"filter":"datum.e=='ALP' && datum.f=='W' && datum.crop=='S'"}],"mark":{"type":"text","align":"left","baseline":"middle","dx":-5,"fontSize":8,"lineHeight":10,"color":"#222"},
    "encoding":{"x":{"field":"grp","type":"nominal"},"y":{"datum":13.8},"text":{"field":"lines"}}},
   {"data":{"name":"se"},"transform":[{"filter":"datum.e=='ALP' && datum.f=='W' && datum.crop=='W'"}],"mark":{"type":"text","align":"left","baseline":"middle","dx":-5,"fontSize":8,"lineHeight":10,"color":"#222"},
    "encoding":{"x":{"field":"grp","type":"nominal"},"y":{"datum":13.8},"text":{"field":"lines"}}}
  ]},
  {"width":183,"height":147,"layer":[
   {"data":{"name":"boxes"},"transform":[{"filter":"datum.e=='ALP' && datum.f=='M'"}],"mark":{"type":"rule","color":"#707070","strokeWidth":1},
    "encoding":{"x":{"field":"grp","type":"nominal","scale":{"type":"band","domain":["S-NM","_a","S-M","_b","_c","W-NM","_d","W-M"],"paddingInner":0,"paddingOuter":1},"axis":null},
     "y":{"field":"min","type":"quantitative","scale":{"domain":[10,40],"nice":false,"zero":false},"axis":{"values":[10,15,20,25,30,35],"labelExpr":"datum.value % 10 == 0 ? datum.label : ''","title":null}},
     "y2":{"field":"max"}}},
   {"data":{"name":"boxes"},"transform":[{"filter":"datum.e=='ALP' && datum.f=='M'"},{"fold":["min","max"],"as":["ck","cv"]}],"mark":{"type":"tick","color":"#707070","size":12,"thickness":1,"opacity":1},
    "encoding":{"x":{"field":"grp","type":"nominal"},"y":{"field":"cv","type":"quantitative"}}},
   {"layer":[
    {"data":{"name":"boxes"},"transform":[{"filter":"datum.e=='ALP' && datum.f=='M'"},{"fold":["med","q3"],"as":["k","v"]}],"mark":{"type":"area","opacity":1,"line":{"stroke":"#222","strokeWidth":0.7}},
     "encoding":{"x":{"field":"grp","type":"nominal"},"xOffset":{"field":"k","type":"nominal","scale":{"type":"point","domain":["med","q3"],"range":[-2.8,9.2],"padding":0}},"y":{"field":"v","type":"quantitative"},"y2":{"field":"med"},"detail":{"field":"grp"},
      "fill":{"field":"trt","type":"nominal","scale":{"domain":["No mulch","Mulch @ 5 Mg ha⁻¹"],"range":["#3DBE73","#0A14F0"]},"legend":null}}},
    {"data":{"name":"boxes"},"transform":[{"filter":"datum.e=='ALP' && datum.f=='M'"},{"fold":["med","q3"],"as":["k","v"]}],"mark":{"type":"area","opacity":1,"line":{"stroke":"#222","strokeWidth":0.7}},
     "encoding":{"x":{"field":"grp","type":"nominal"},"xOffset":{"field":"k","type":"nominal","scale":{"type":"point","domain":["q3","med"],"range":[8.7,21.2],"padding":0}},"y":{"field":"v","type":"quantitative"},"y2":{"field":"med"},"detail":{"field":"grp"},
      "fill":{"field":"trt","type":"nominal","legend":null}}},
    {"data":{"name":"boxes"},"transform":[{"filter":"datum.e=='ALP' && datum.f=='M'"},{"fold":["med","q1"],"as":["k","v"]}],"mark":{"type":"area","opacity":1,"line":{"stroke":"#222","strokeWidth":0.7}},
     "encoding":{"x":{"field":"grp","type":"nominal"},"xOffset":{"field":"k","type":"nominal","scale":{"type":"point","domain":["med","q1"],"range":[-2.8,9.2],"padding":0}},"y":{"field":"v","type":"quantitative"},"y2":{"field":"med"},"detail":{"field":"grp"},
      "fill":{"field":"trt","type":"nominal","legend":null}}},
    {"data":{"name":"boxes"},"transform":[{"filter":"datum.e=='ALP' && datum.f=='M'"},{"fold":["med","q1"],"as":["k","v"]}],"mark":{"type":"area","opacity":1,"line":{"stroke":"#222","strokeWidth":0.7}},
     "encoding":{"x":{"field":"grp","type":"nominal"},"xOffset":{"field":"k","type":"nominal","scale":{"type":"point","domain":["q1","med"],"range":[8.7,21.2],"padding":0}},"y":{"field":"v","type":"quantitative"},"y2":{"field":"med"},"detail":{"field":"grp"},
      "fill":{"field":"trt","type":"nominal","legend":null}}}
   ],"resolve":{"scale":{"xOffset":"independent"}}},
   {"data":{"name":"boxes"},"transform":[{"filter":"datum.e=='ALP' && datum.f=='M'"}],"mark":{"type":"tick","color":"#111","size":24,"thickness":1,"opacity":1},
    "encoding":{"x":{"field":"grp","type":"nominal"},"y":{"field":"med","type":"quantitative"}}},
   {"data":{"name":"outliers"},"transform":[{"filter":"datum.e=='ALP' && datum.f=='M'"}],"mark":{"type":"point","filled":true,"color":"#111","size":5,"opacity":1},
    "encoding":{"x":{"field":"grp","type":"nominal"},"y":{"field":"v","type":"quantitative"}}},
   {"data":{"name":"boxes"},"transform":[{"filter":"datum.e=='ALP' && datum.f=='M'"}],"mark":{"type":"text","align":"left","baseline":"middle","dx":4,"dy":-3,"fontSize":8,"color":"#444"},
    "encoding":{"x":{"field":"grp","type":"nominal"},"y":{"field":"q3","type":"quantitative"},"text":{"field":"letter"}}},
   {"data":{"name":"se"},"transform":[{"filter":"datum.e=='ALP' && datum.f=='M' && datum.crop=='S'"}],"mark":{"type":"text","align":"left","baseline":"middle","dx":-7,"fontSize":8,"lineHeight":10,"color":"#222"},
    "encoding":{"x":{"field":"grp","type":"nominal"},"y":{"datum":13.9},"text":{"field":"lines"}}},
   {"data":{"name":"se"},"transform":[{"filter":"datum.e=='ALP' && datum.f=='M' && datum.crop=='W'"}],"mark":{"type":"text","align":"left","baseline":"middle","dx":-5.5,"fontSize":8,"lineHeight":10,"color":"#222"},
    "encoding":{"x":{"field":"grp","type":"nominal"},"y":{"datum":13.9},"text":{"field":"lines"}}}
  ]},
  {"width":183,"height":15,"data":{"name":"crops"},"layer":[
   {"mark":{"type":"text","fontSize":10,"fontWeight":"bold","color":"#111"},"encoding":{"x":{"field":"crop","type":"nominal","scale":{"type":"band","paddingInner":0,"paddingOuter":0},"axis":null},"text":{"field":"crop"}}},
   {"transform":[{"filter":"datum.crop=='Wheat'"}],"mark":{"type":"rule","color":"#7a7a7a"},"encoding":{"x":{"field":"crop","type":"nominal","bandPosition":0}}}
  ]}
 ],"spacing":0,"bounds":"flush","resolve":{"scale":{"fill":"independent"},"legend":{"fill":"independent"}}},
 {"vconcat":[
  {"width":181,"height":147,"layer":[
   {"data":{"name":"boxes"},"transform":[{"filter":"datum.e=='URE' && datum.f=='T'"}],"mark":{"type":"rule","color":"#707070","strokeWidth":1},
    "encoding":{"x":{"field":"grp","type":"nominal","scale":{"type":"band","domain":["S-RT","S-CT","S-ZT","_","W-RT","W-CT","W-ZT"],"paddingInner":0,"paddingOuter":0.42},"axis":null},
     "y":{"field":"min","type":"quantitative","scale":{"domain":[30,90],"nice":false,"zero":false},"axis":{"values":[40,50,60,70,80],"labelExpr":"datum.value % 20 == 0 ? datum.label : ''","title":null}},
     "y2":{"field":"max"}}},
   {"data":{"name":"boxes"},"transform":[{"filter":"datum.e=='URE' && datum.f=='T'"},{"fold":["min","max"],"as":["ck","cv"]}],"mark":{"type":"tick","color":"#707070","size":12,"thickness":1,"opacity":1},
    "encoding":{"x":{"field":"grp","type":"nominal"},"y":{"field":"cv","type":"quantitative"}}},
   {"layer":[
    {"data":{"name":"boxes"},"transform":[{"filter":"datum.e=='URE' && datum.f=='T'"},{"fold":["med","q3"],"as":["k","v"]}],"mark":{"type":"area","opacity":1,"line":{"stroke":"#222","strokeWidth":0.7}},
     "encoding":{"x":{"field":"grp","type":"nominal"},"xOffset":{"field":"k","type":"nominal","scale":{"type":"point","domain":["med","q3"],"range":[4.0,11.5],"padding":0}},"y":{"field":"v","type":"quantitative"},"y2":{"field":"med"},"detail":{"field":"grp"},
      "fill":{"field":"trt","type":"nominal","scale":{"domain":["Reduced tillage","Conventional tillage","Zero tillage"],"range":["#3DBE73","#0A14F0","#2E5F9F"]},"legend":null}}},
    {"data":{"name":"boxes"},"transform":[{"filter":"datum.e=='URE' && datum.f=='T'"},{"fold":["med","q3"],"as":["k","v"]}],"mark":{"type":"area","opacity":1,"line":{"stroke":"#222","strokeWidth":0.7}},
     "encoding":{"x":{"field":"grp","type":"nominal"},"xOffset":{"field":"k","type":"nominal","scale":{"type":"point","domain":["q3","med"],"range":[11.0,19.0],"padding":0}},"y":{"field":"v","type":"quantitative"},"y2":{"field":"med"},"detail":{"field":"grp"},
      "fill":{"field":"trt","type":"nominal","legend":null}}},
    {"data":{"name":"boxes"},"transform":[{"filter":"datum.e=='URE' && datum.f=='T'"},{"fold":["med","q1"],"as":["k","v"]}],"mark":{"type":"area","opacity":1,"line":{"stroke":"#222","strokeWidth":0.7}},
     "encoding":{"x":{"field":"grp","type":"nominal"},"xOffset":{"field":"k","type":"nominal","scale":{"type":"point","domain":["med","q1"],"range":[4.0,11.5],"padding":0}},"y":{"field":"v","type":"quantitative"},"y2":{"field":"med"},"detail":{"field":"grp"},
      "fill":{"field":"trt","type":"nominal","legend":null}}},
    {"data":{"name":"boxes"},"transform":[{"filter":"datum.e=='URE' && datum.f=='T'"},{"fold":["med","q1"],"as":["k","v"]}],"mark":{"type":"area","opacity":1,"line":{"stroke":"#222","strokeWidth":0.7}},
     "encoding":{"x":{"field":"grp","type":"nominal"},"xOffset":{"field":"k","type":"nominal","scale":{"type":"point","domain":["q1","med"],"range":[11.0,19.0],"padding":0}},"y":{"field":"v","type":"quantitative"},"y2":{"field":"med"},"detail":{"field":"grp"},
      "fill":{"field":"trt","type":"nominal","legend":null}}}
   ],"resolve":{"scale":{"xOffset":"independent"}}},
   {"data":{"name":"boxes"},"transform":[{"filter":"datum.e=='URE' && datum.f=='T'"}],"mark":{"type":"tick","color":"#111","size":15,"thickness":1,"opacity":1},
    "encoding":{"x":{"field":"grp","type":"nominal"},"y":{"field":"med","type":"quantitative"}}},
   {"data":{"name":"outliers"},"transform":[{"filter":"datum.e=='URE' && datum.f=='T'"}],"mark":{"type":"point","filled":true,"color":"#111","size":5,"opacity":1},
    "encoding":{"x":{"field":"grp","type":"nominal"},"y":{"field":"v","type":"quantitative"}}},
   {"data":{"name":"se"},"transform":[{"filter":"datum.e=='URE' && datum.f=='T' && datum.crop=='S'"}],"mark":{"type":"text","align":"left","baseline":"middle","dx":-5,"fontSize":8,"lineHeight":10,"color":"#222"},
    "encoding":{"x":{"field":"grp","type":"nominal"},"y":{"datum":38.2},"text":{"field":"lines"}}},
   {"data":{"name":"se"},"transform":[{"filter":"datum.e=='URE' && datum.f=='T' && datum.crop=='W'"}],"mark":{"type":"text","align":"left","baseline":"middle","dx":-12,"fontSize":8,"lineHeight":10,"color":"#222"},
    "encoding":{"x":{"field":"grp","type":"nominal"},"y":{"datum":38.2},"text":{"field":"lines"}}}
  ]},
  {"width":181,"height":147,"layer":[
   {"data":{"name":"boxes"},"transform":[{"filter":"datum.e=='URE' && datum.f=='W'"}],"mark":{"type":"rule","color":"#707070","strokeWidth":1},
    "encoding":{"x":{"field":"grp","type":"nominal","scale":{"type":"band","domain":["S-100","S-80","S-60","_","W-100","W-80","W-60"],"paddingInner":0,"paddingOuter":0.42},"axis":null},
     "y":{"field":"min","type":"quantitative","scale":{"domain":[30,90],"nice":false,"zero":false},"axis":{"values":[40,50,60,70,80],"labelExpr":"datum.value % 20 == 0 ? datum.label : ''","title":"Urease activity (mg NH₄⁺ N kg⁻¹ soil h⁻¹)"}},
     "y2":{"field":"max"}}},
   {"data":{"name":"boxes"},"transform":[{"filter":"datum.e=='URE' && datum.f=='W'"},{"fold":["min","max"],"as":["ck","cv"]}],"mark":{"type":"tick","color":"#707070","size":12,"thickness":1,"opacity":1},
    "encoding":{"x":{"field":"grp","type":"nominal"},"y":{"field":"cv","type":"quantitative"}}},
   {"layer":[
    {"data":{"name":"boxes"},"transform":[{"filter":"datum.e=='URE' && datum.f=='W'"},{"fold":["med","q3"],"as":["k","v"]}],"mark":{"type":"area","opacity":1,"line":{"stroke":"#222","strokeWidth":0.7}},
     "encoding":{"x":{"field":"grp","type":"nominal"},"xOffset":{"field":"k","type":"nominal","scale":{"type":"point","domain":["med","q3"],"range":[4.0,11.5],"padding":0}},"y":{"field":"v","type":"quantitative"},"y2":{"field":"med"},"detail":{"field":"grp"},
      "fill":{"field":"trt","type":"nominal","scale":{"domain":["100CWR","80CWR","60CWR"],"range":["#3DBE73","#0A14F0","#2E5F9F"]},"legend":null}}},
    {"data":{"name":"boxes"},"transform":[{"filter":"datum.e=='URE' && datum.f=='W'"},{"fold":["med","q3"],"as":["k","v"]}],"mark":{"type":"area","opacity":1,"line":{"stroke":"#222","strokeWidth":0.7}},
     "encoding":{"x":{"field":"grp","type":"nominal"},"xOffset":{"field":"k","type":"nominal","scale":{"type":"point","domain":["q3","med"],"range":[11.0,19.0],"padding":0}},"y":{"field":"v","type":"quantitative"},"y2":{"field":"med"},"detail":{"field":"grp"},
      "fill":{"field":"trt","type":"nominal","legend":null}}},
    {"data":{"name":"boxes"},"transform":[{"filter":"datum.e=='URE' && datum.f=='W'"},{"fold":["med","q1"],"as":["k","v"]}],"mark":{"type":"area","opacity":1,"line":{"stroke":"#222","strokeWidth":0.7}},
     "encoding":{"x":{"field":"grp","type":"nominal"},"xOffset":{"field":"k","type":"nominal","scale":{"type":"point","domain":["med","q1"],"range":[4.0,11.5],"padding":0}},"y":{"field":"v","type":"quantitative"},"y2":{"field":"med"},"detail":{"field":"grp"},
      "fill":{"field":"trt","type":"nominal","legend":null}}},
    {"data":{"name":"boxes"},"transform":[{"filter":"datum.e=='URE' && datum.f=='W'"},{"fold":["med","q1"],"as":["k","v"]}],"mark":{"type":"area","opacity":1,"line":{"stroke":"#222","strokeWidth":0.7}},
     "encoding":{"x":{"field":"grp","type":"nominal"},"xOffset":{"field":"k","type":"nominal","scale":{"type":"point","domain":["q1","med"],"range":[11.0,19.0],"padding":0}},"y":{"field":"v","type":"quantitative"},"y2":{"field":"med"},"detail":{"field":"grp"},
      "fill":{"field":"trt","type":"nominal","legend":null}}}
   ],"resolve":{"scale":{"xOffset":"independent"}}},
   {"data":{"name":"boxes"},"transform":[{"filter":"datum.e=='URE' && datum.f=='W'"}],"mark":{"type":"tick","color":"#111","size":15,"thickness":1,"opacity":1},
    "encoding":{"x":{"field":"grp","type":"nominal"},"y":{"field":"med","type":"quantitative"}}},
   {"data":{"name":"outliers"},"transform":[{"filter":"datum.e=='URE' && datum.f=='W'"}],"mark":{"type":"point","filled":true,"color":"#111","size":5,"opacity":1},
    "encoding":{"x":{"field":"grp","type":"nominal"},"y":{"field":"v","type":"quantitative"}}},
   {"data":{"name":"se"},"transform":[{"filter":"datum.e=='URE' && datum.f=='W' && datum.crop=='S'"}],"mark":{"type":"text","align":"left","baseline":"middle","dx":-8,"fontSize":8,"lineHeight":10,"color":"#222"},
    "encoding":{"x":{"field":"grp","type":"nominal"},"y":{"datum":37.6},"text":{"field":"lines"}}},
   {"data":{"name":"se"},"transform":[{"filter":"datum.e=='URE' && datum.f=='W' && datum.crop=='W'"}],"mark":{"type":"text","align":"left","baseline":"middle","dx":5,"fontSize":8,"lineHeight":10,"color":"#222"},
    "encoding":{"x":{"field":"grp","type":"nominal"},"y":{"datum":37.6},"text":{"field":"lines"}}}
  ]},
  {"width":181,"height":147,"layer":[
   {"data":{"name":"boxes"},"transform":[{"filter":"datum.e=='URE' && datum.f=='M'"}],"mark":{"type":"rule","color":"#707070","strokeWidth":1},
    "encoding":{"x":{"field":"grp","type":"nominal","scale":{"type":"band","domain":["S-NM","_a","S-M","_b","_c","W-NM","_d","W-M"],"paddingInner":0,"paddingOuter":1},"axis":null},
     "y":{"field":"min","type":"quantitative","scale":{"domain":[30,90],"nice":false,"zero":false},"axis":{"values":[40,50,60,70,80],"labelExpr":"datum.value % 20 == 0 ? datum.label : ''","title":null}},
     "y2":{"field":"max"}}},
   {"data":{"name":"boxes"},"transform":[{"filter":"datum.e=='URE' && datum.f=='M'"},{"fold":["min","max"],"as":["ck","cv"]}],"mark":{"type":"tick","color":"#707070","size":12,"thickness":1,"opacity":1},
    "encoding":{"x":{"field":"grp","type":"nominal"},"y":{"field":"cv","type":"quantitative"}}},
   {"layer":[
    {"data":{"name":"boxes"},"transform":[{"filter":"datum.e=='URE' && datum.f=='M'"},{"fold":["med","q3"],"as":["k","v"]}],"mark":{"type":"area","opacity":1,"line":{"stroke":"#222","strokeWidth":0.7}},
     "encoding":{"x":{"field":"grp","type":"nominal"},"xOffset":{"field":"k","type":"nominal","scale":{"type":"point","domain":["med","q3"],"range":[-3.0,9.0],"padding":0}},"y":{"field":"v","type":"quantitative"},"y2":{"field":"med"},"detail":{"field":"grp"},
      "fill":{"field":"trt","type":"nominal","scale":{"domain":["No mulch","Mulch @ 5 Mg ha⁻¹"],"range":["#3DBE73","#0A14F0"]},"legend":null}}},
    {"data":{"name":"boxes"},"transform":[{"filter":"datum.e=='URE' && datum.f=='M'"},{"fold":["med","q3"],"as":["k","v"]}],"mark":{"type":"area","opacity":1,"line":{"stroke":"#222","strokeWidth":0.7}},
     "encoding":{"x":{"field":"grp","type":"nominal"},"xOffset":{"field":"k","type":"nominal","scale":{"type":"point","domain":["q3","med"],"range":[8.5,21.0],"padding":0}},"y":{"field":"v","type":"quantitative"},"y2":{"field":"med"},"detail":{"field":"grp"},
      "fill":{"field":"trt","type":"nominal","legend":null}}},
    {"data":{"name":"boxes"},"transform":[{"filter":"datum.e=='URE' && datum.f=='M'"},{"fold":["med","q1"],"as":["k","v"]}],"mark":{"type":"area","opacity":1,"line":{"stroke":"#222","strokeWidth":0.7}},
     "encoding":{"x":{"field":"grp","type":"nominal"},"xOffset":{"field":"k","type":"nominal","scale":{"type":"point","domain":["med","q1"],"range":[-3.0,9.0],"padding":0}},"y":{"field":"v","type":"quantitative"},"y2":{"field":"med"},"detail":{"field":"grp"},
      "fill":{"field":"trt","type":"nominal","legend":null}}},
    {"data":{"name":"boxes"},"transform":[{"filter":"datum.e=='URE' && datum.f=='M'"},{"fold":["med","q1"],"as":["k","v"]}],"mark":{"type":"area","opacity":1,"line":{"stroke":"#222","strokeWidth":0.7}},
     "encoding":{"x":{"field":"grp","type":"nominal"},"xOffset":{"field":"k","type":"nominal","scale":{"type":"point","domain":["q1","med"],"range":[8.5,21.0],"padding":0}},"y":{"field":"v","type":"quantitative"},"y2":{"field":"med"},"detail":{"field":"grp"},
      "fill":{"field":"trt","type":"nominal","legend":null}}}
   ],"resolve":{"scale":{"xOffset":"independent"}}},
   {"data":{"name":"boxes"},"transform":[{"filter":"datum.e=='URE' && datum.f=='M'"}],"mark":{"type":"tick","color":"#111","size":24,"thickness":1,"opacity":1},
    "encoding":{"x":{"field":"grp","type":"nominal"},"y":{"field":"med","type":"quantitative"}}},
   {"data":{"name":"outliers"},"transform":[{"filter":"datum.e=='URE' && datum.f=='M'"}],"mark":{"type":"point","filled":true,"color":"#111","size":5,"opacity":1},
    "encoding":{"x":{"field":"grp","type":"nominal"},"y":{"field":"v","type":"quantitative"}}},
   {"data":{"name":"boxes"},"transform":[{"filter":"datum.e=='URE' && datum.f=='M'"}],"mark":{"type":"text","align":"left","baseline":"middle","dx":4,"dy":-3,"fontSize":8,"color":"#444"},
    "encoding":{"x":{"field":"grp","type":"nominal"},"y":{"field":"q3","type":"quantitative"},"text":{"field":"letter"}}},
   {"data":{"name":"se"},"transform":[{"filter":"datum.e=='URE' && datum.f=='M' && datum.crop=='S'"}],"mark":{"type":"text","align":"left","baseline":"middle","dx":-11,"fontSize":8,"lineHeight":10,"color":"#222"},
    "encoding":{"x":{"field":"grp","type":"nominal"},"y":{"datum":37.1},"text":{"field":"lines"}}},
   {"data":{"name":"se"},"transform":[{"filter":"datum.e=='URE' && datum.f=='M' && datum.crop=='W'"}],"mark":{"type":"text","align":"left","baseline":"middle","dx":-10.5,"fontSize":8,"lineHeight":10,"color":"#222"},
    "encoding":{"x":{"field":"grp","type":"nominal"},"y":{"datum":37.1},"text":{"field":"lines"}}}
  ]},
  {"width":181,"height":15,"data":{"name":"crops"},"layer":[
   {"mark":{"type":"text","fontSize":10,"fontWeight":"bold","color":"#111"},"encoding":{"x":{"field":"crop","type":"nominal","scale":{"type":"band","paddingInner":0,"paddingOuter":0},"axis":null},"text":{"field":"crop"}}},
   {"transform":[{"filter":"datum.crop=='Wheat'"}],"mark":{"type":"rule","color":"#7a7a7a"},"encoding":{"x":{"field":"crop","type":"nominal","bandPosition":0}}}
  ]}
 ],"spacing":0,"bounds":"flush","resolve":{"scale":{"fill":"independent"},"legend":{"fill":"independent"}}}
]
}
